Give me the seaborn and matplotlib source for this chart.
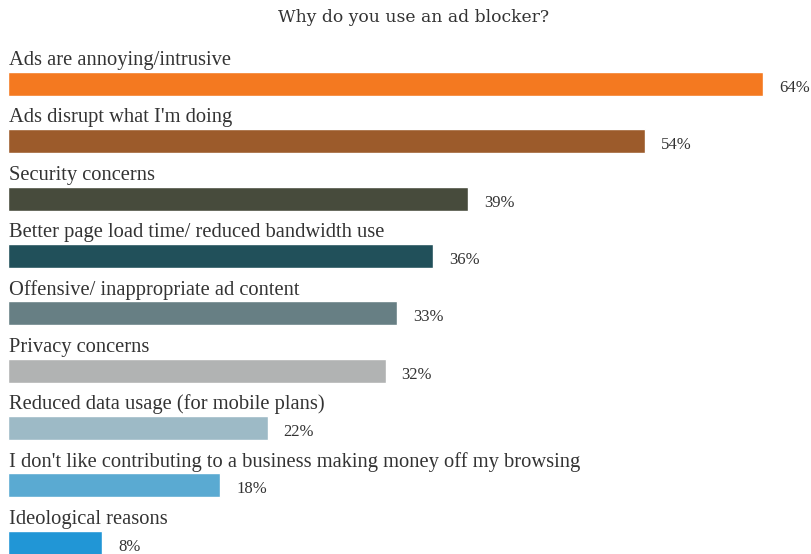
import matplotlib
matplotlib.use("Agg")
import matplotlib.pyplot as plt
import seaborn as sns
import pandas as pd

# survey answers, top to bottom
reasons = [
    "Ads are annoying/intrusive",
    "Ads disrupt what I'm doing",
    "Security concerns",
    "Better page load time/ reduced bandwidth use",
    "Offensive/ inappropriate ad content",
    "Privacy concerns",
    "Reduced data usage (for mobile plans)",
    "I don't like contributing to a business making money off my browsing",
    "Ideological reasons",
]
shares = [64, 54, 39, 36, 33, 32, 22, 18, 8]
bar_colors = ["#F47920", "#9C5B2B", "#474B3C", "#21505A", "#677F84",
              "#B1B3B3", "#9DBAC6", "#5AAAD2", "#2196D6"]

df = pd.DataFrame({"reason": reasons, "share": shares})

sns.set_style("white")
plt.rcParams["font.family"] = ["Liberation Serif", "DejaVu Serif"]

fig = plt.figure(figsize=(8.11, 5.54), dpi=100)
ax = fig.add_axes([0, 0, 1, 1])

sns.barplot(data=df, y="reason", x="share", hue="reason",
            palette=bar_colors, orient="h", width=0.42,
            saturation=1, legend=False, ax=ax)

# px scale: 11.8 px per percent, bars start 8px from the left
ax.set_xlim(-8 / 11.8, 803 / 11.8)
ax.set_ylim(8.20, -1.466)
ax.set_axis_off()

for i, (name, val) in enumerate(zip(reasons, shares)):
    ax.text(0.12, i - 0.41, name, fontsize=14.8, color="#333333",
            va="center", ha="left")
    ax.text(val + 1.35, i + 0.07, f"{val}%", fontsize=12,
            color="#333333", va="center", ha="left")

fig.text(0.51, 1 - 17 / 554, "Why do you use an ad blocker?",
         fontsize=12.3, color="#333333", ha="center", va="center",
         family=["DejaVu Serif"])

fig.savefig("out.png", dpi=100, facecolor="white")
